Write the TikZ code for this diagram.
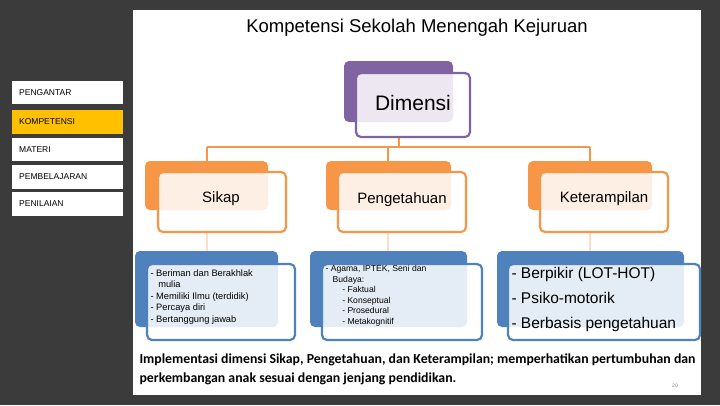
\documentclass[tikz,border=0pt]{standalone}
\usepackage{fontspec}
\setmainfont{Liberation Sans}
\newfontfamily\capfont{Carlito}
\definecolor{bgdark}{HTML}{3B3B3B}
\definecolor{purp}{HTML}{8064A2}
\definecolor{orng}{HTML}{F79646}
\definecolor{blu}{HTML}{4F81BD}
\definecolor{menuy}{HTML}{FFC000}
\begin{document}
\begin{tikzpicture}[x=1pt,y=-1pt,
  menu/.style={draw=none,anchor=west,font=\fontsize{8.5}{10}\selectfont,inner xsep=7pt},
  back/.style={rounded corners=5pt,fill=#1},
  front/.style={rounded corners=5pt,draw=#1,line width=2.2pt,fill=white,fill opacity=0.85},
  conn/.style={draw=orng,line width=2.2pt},
  conn2/.style={draw=orng!30,line width=1.5pt}]
\fill[bgdark] (0,0) rectangle (720,405);
\useasboundingbox (0,0) rectangle (720,405);
\fill[white] (133,10) rectangle (701,395);
\node (title) at (417,28) {\fontsize{18.5}{22}\selectfont Kompetensi Sekolah Menengah Kejuruan};
% menu
\fill[white] (12,81) rectangle (123,104);
\fill[menuy] (12,110) rectangle (123,134);
\fill[white] (12,138) rectangle (123,161);
\fill[white] (12,165) rectangle (123,189);
\fill[white] (12,192) rectangle (123,216);
\node[menu] (m1) at (12,93) {PENGANTAR};
\node[menu] (m2) at (12,122) {KOMPETENSI};
\node[menu] (m3) at (12,150) {MATERI};
\node[menu] (m4) at (12,177) {PEMBELAJARAN};
\node[menu] (m5) at (12,204) {PENILAIAN};
% connectors
\coordinate (dm) at (399,137);
\coordinate (hj) at (399,147);
\coordinate (hl) at (207,147);
\coordinate (hm) at (388,147);
\coordinate (hr) at (590,147);
\draw[conn] (dm) -- (hj);
\draw[conn] (hl) -- (hr);
\draw[conn] (hl) -- (207,161);
\draw[conn] (hm) -- (388,161);
\draw[conn] (hr) -- (590,161);
\draw[conn2] (207,232) -- (207,252);
\draw[conn2] (388,232) -- (388,252);
\draw[conn2] (590,232) -- (590,252);
% Dimensi
\fill[back=purp] (344,61) rectangle (453,122);
\draw[front=purp] (356,73) rectangle (470,137);
\node (dim) at (413,103) {\fontsize{21}{25}\selectfont Dimensi};
% level 2
\fill[back=orng] (145,161) rectangle (268,210);
\draw[front=orng] (158,172) rectangle (286,232);
\node (sik) at (221,199) {\fontsize{15}{18}\selectfont Sikap};
\fill[back=orng] (326,161) rectangle (451,210);
\draw[front=orng] (338,172) rectangle (466,232);
\node (pen) at (402,200) {\fontsize{15}{18}\selectfont Pengetahuan};
\fill[back=orng] (528,161) rectangle (652,210);
\draw[front=orng] (540,172) rectangle (668,232);
\node (ket) at (604,199) {\fontsize{15}{18}\selectfont Keterampilan};
% level 3
\fill[back=blu] (135,251) rectangle (278,327);
\draw[front=blu] (147,264) rectangle (295,340);
\node[anchor=north west,align=left,font=\fontsize{9.3}{11.5}\selectfont] (l1) at (147,266)
 {- Beriman dan Berakhlak\\\ \ \ mulia\\- Memiliki Ilmu (terdidik)\\- Percaya diri\\- Bertanggung jawab};
\fill[back=blu] (310,251) rectangle (467,327);
\draw[front=blu] (322,264) rectangle (482,340);
\node[anchor=north west,align=left,font=\fontsize{8.6}{10.5}\selectfont] (l2) at (322,262)
 {- Agama, IPTEK, Seni dan\\\ \ \ Budaya:\\\ \ \ \ \ \ \ - Faktual\\\ \ \ \ \ \ \ - Konseptual\\\ \ \ \ \ \ \ - Prosedural\\\ \ \ \ \ \ \ - Metakognitif};
\fill[back=blu] (497,251) rectangle (684,327);
\draw[front=blu] (508,264) rectangle (700,340);
\node[anchor=north west,align=left,font=\fontsize{15.5}{25}\selectfont] (l3) at (508,264)
 {- Berpikir (LOT-HOT)\\- Psiko-motorik\\- Berbasis pengetahuan};
% caption
\node[anchor=north west,align=left,font=\capfont\bfseries\fontsize{13.8}{19.5}\selectfont] (cap) at (136,350)
 {Implementasi dimensi Sikap, Pengetahuan, dan Keterampilan; memperhatikan pertumbuhan dan\\perkembangan anak sesuai dengan jenjang pendidikan.};
\node[font=\fontsize{5}{6}\selectfont,text=gray] (pg) at (675,386) {20};
\end{tikzpicture}
\end{document}
